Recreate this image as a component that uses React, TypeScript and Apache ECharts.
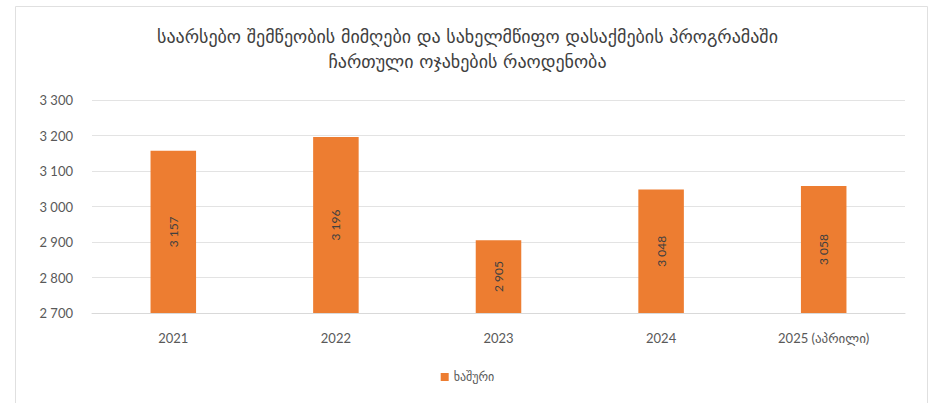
import React, { useEffect, useRef } from "react";
import * as echarts from "echarts";

const titleLines = [
  "საარსებო შემწეობის მიმღები და სახელმწიფო დასაქმების პროგრამაში",
  "ჩართული ოჯახების რაოდენობა",
];
const categories = ["2021", "2022", "2023", "2024", "2025 (აპრილი)"];
const seriesName = "ხაშური";
const values = [3157, 3196, 2905, 3048, 3058];
const yMin = 2700;
const yMax = 3300;
const yStep = 100;

const fmt = (v: number) => {
  const s = String(Math.round(v));
  return s.replace(/\B(?=(\d{3})+(?!\d))/g, " ");
};

export default function App() {
  const ref = useRef<HTMLDivElement>(null);
  useEffect(() => {
    if (!ref.current) return;
    const chart = echarts.init(ref.current, undefined, { renderer: "svg" });
    chart.setOption({
      animation: false,
      backgroundColor: "#ffffff",
      title: {
        text: titleLines.join("\n"),
        left: "center",
        top: 19,
        textStyle: {
          fontFamily: "DejaVu Sans",
          fontSize: 18,
          fontWeight: "normal",
          color: "#404040",
          lineHeight: 25,
        },
      },
      graphic: [
        {
          type: "rect",
          shape: { x: 15.5, y: 6.5, width: 912, height: 410 },
          style: { fill: "none", stroke: "#e0e0e0", lineWidth: 1 },
          silent: true,
        },
      ],
      legend: {
        bottom: 15,
        left: "center",
        itemWidth: 8,
        itemHeight: 8,
        itemGap: 4,
        icon: "rect",
        textStyle: { fontFamily: "DejaVu Sans", fontSize: 12, color: "#595959" },
        data: [seriesName],
      },
      grid: { left: 92, right: 30, top: 100, bottom: 90 },
      xAxis: {
        type: "category",
        data: categories,
        axisLine: { show: true, lineStyle: { color: "#d9d9d9" } },
        axisTick: { show: false },
        axisLabel: {
          margin: 18,
          fontFamily: "Lato, DejaVu Sans",
          fontSize: 13,
          color: "#595959",
        },
      },
      yAxis: {
        type: "value",
        min: yMin,
        max: yMax,
        interval: yStep,
        axisLine: { show: false },
        axisTick: { show: false },
        splitLine: { lineStyle: { color: "#e3e3e3" } },
        axisLabel: {
          margin: 19,
          fontFamily: "Lato",
          fontSize: 13,
          color: "#595959",
          formatter: (v: number) => fmt(v),
        },
      },
      series: [
        {
          name: seriesName,
          type: "bar",
          data: values,
          barWidth: "28%",
          itemStyle: { color: "#ED7D31" },
          label: {
            show: true,
            position: "inside",
            rotate: 90,
            fontFamily: "Lato",
            fontSize: 12,
            color: "#404040",
            formatter: (p: any) => fmt(p.value),
          },
        },
      ],
    });
    return () => chart.dispose();
  }, []);
  return (
    <div
      ref={ref}
      style={{ position: "fixed", left: 0, top: 0, width: 935, height: 403 }}
    />
  );
}
